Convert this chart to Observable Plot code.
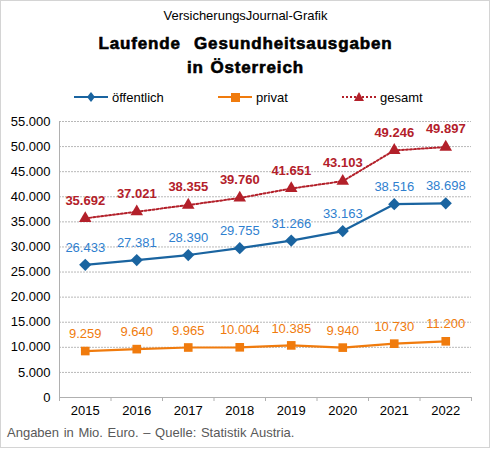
<!DOCTYPE html>
<html>
<head>
<meta charset="utf-8">
<script src="https://cdn.jsdelivr.net/npm/d3@7"></script>
<script src="https://cdn.jsdelivr.net/npm/@observablehq/plot@0.6"></script>
<style>
  html, body { margin: 0; padding: 0; background: #fff; }
  #wrap { position: relative; width: 491px; height: 449px; overflow: hidden; font-family: "Liberation Sans", Arial, sans-serif; }
  #frame { position: absolute; left: 0; top: 0; width: 488px; height: 446px; border: 1px solid #d4d4d4; }
  .t { position: absolute; left: 0; width: 491px; text-align: center; color: #000; white-space: nowrap; }
  #sub { top: 8px; font-size: 13px; }
  #title { top: 32px; font-size: 17px; font-weight: bold; line-height: 24px; letter-spacing: 0.85px; -webkit-text-stroke: 0.6px #000; word-spacing: 1px; }
  #legend { position: absolute; top: 87px; left: 0; width: 491px; height: 20px; font-size: 13px; color: #000; }
  .li { position: absolute; top: 0; display: flex; align-items: center; height: 20px; }
  .li svg { margin-right: 3px; }
  #caption { position: absolute; left: 7px; top: 425px; font-size: 13px; color: #595959; word-spacing: 1px; }
  #chart { position: absolute; left: 0; top: 105px; }
</style>
</head>
<body>
<div id="wrap">
  <div id="frame"></div>
  <div class="t" id="sub">VersicherungsJournal-Grafik</div>
  <div class="t" id="title">Laufende&nbsp; Gesundheitsausgaben<br>in Österreich</div>
  <div id="legend"></div>
  <div id="chart"></div>
  <div id="caption">Angaben in Mio. Euro. – Quelle: Statistik Austria.</div>
</div>
<script>
const years = [2015, 2016, 2017, 2018, 2019, 2020, 2021, 2022];
const oeffentlich = [26433, 27381, 28390, 29755, 31266, 33163, 38516, 38698];
const privat = [9259, 9640, 9965, 10004, 10385, 9940, 10730, 11200];
const gesamt = [35692, 37021, 38355, 39760, 41651, 43103, 49246, 49897];
const seriesNames = ["öffentlich", "privat", "gesamt"];
const yTicks = [0, 5000, 10000, 15000, 20000, 25000, 30000, 35000, 40000, 45000, 50000, 55000];

const colBlue = "#1a64a0", colBlueLbl = "#2f7fcf";
const colOrange = "#f07b0d", colOrangeLbl = "#f07b0d";
const colRed = "#b3202a", colRedLbl = "#b3202a";

const de = d3.formatLocale({decimal: ",", thousands: ".", grouping: [3], currency: ["", " €"]});
const fmt = de.format(",d");

const rows = (vals) => years.map((y, i) => ({year: y, value: vals[i]}));
const dO = rows(oeffentlich), dP = rows(privat), dG = rows(gesamt);
const bounds = d3.range(years[0] - 0.5, years[years.length - 1] + 1, 1);

const chart = Plot.plot({
  width: 491,
  height: 320,
  marginTop: 16,
  marginBottom: 28,
  marginLeft: 59,
  marginRight: 20,
  style: {fontFamily: "Liberation Sans, Arial, sans-serif", fontSize: "13px", color: "#000", background: "transparent"},
  x: {type: "linear", domain: [years[0] - 0.5, years[years.length - 1] + 0.5]},
  y: {domain: [0, 55000]},
  marks: [
    Plot.gridY(yTicks.slice(1), {stroke: "#b8b8b8", strokeOpacity: 1, strokeDasharray: "2,1", strokeWidth: 1}),
    Plot.axisY({ticks: yTicks, tickSize: 0, tickPadding: 9, tickFormat: fmt, label: null, fontSize: 13, fill: "#000"}),
    Plot.axisX({ticks: years, tickSize: 0, tickPadding: 8, tickFormat: d => String(d), label: null, fontSize: 13, fill: "#000"}),
    Plot.axisX({ticks: bounds, tickSize: 4, tickFormat: () => "", label: null, stroke: "#b0b0b0"}),
    Plot.ruleX([years[0] - 0.5], {y1: 0, y2: 55000, stroke: "#b0b0b0"}),
    Plot.ruleY([0], {stroke: "#b0b0b0"}),
    Plot.line(dG, {x: "year", y: "value", stroke: colRed, strokeWidth: 2, strokeDasharray: "2,2"}),
    Plot.line(dO, {x: "year", y: "value", stroke: colBlue, strokeWidth: 2.2}),
    Plot.line(dP, {x: "year", y: "value", stroke: colOrange, strokeWidth: 2.2}),
    Plot.dot(dO, {x: "year", y: "value", symbol: "diamond2", r: 5.5, fill: colBlue, stroke: "none"}),
    Plot.dot(dP, {x: "year", y: "value", symbol: "square2", r: 5.5, fill: colOrange, stroke: "none"}),
    Plot.dot(dG, {x: "year", y: "value", symbol: "triangle2", r: 6, fill: colRed, stroke: "none"}),
    Plot.text(dO, {x: "year", y: "value", text: d => fmt(d.value), dy: -17, fill: colBlueLbl, fontSize: 13}),
    Plot.text(dP, {x: "year", y: "value", text: d => fmt(d.value), dy: -17, fill: colOrangeLbl, fontSize: 13}),
    Plot.text(dG, {x: "year", y: "value", text: d => fmt(d.value), dy: -18, fill: colRedLbl, fontSize: 13, fontWeight: "bold"})
  ]
});
document.getElementById("chart").appendChild(chart);

// Legend
const legend = document.getElementById("legend");
const legendItems = [
  {name: seriesNames[0], left: 74, color: colBlue, dash: null, sym: "diamond"},
  {name: seriesNames[1], left: 218, color: colOrange, dash: null, sym: "square"},
  {name: seriesNames[2], left: 342, color: colRed, dash: "2,2", sym: "triangle"}
];
for (const it of legendItems) {
  const div = document.createElement("div");
  div.className = "li";
  div.style.left = it.left + "px";
  let marker = "";
  if (it.sym === "diamond") marker = `<path d="M17,5 L21,10 L17,15 L13,10 Z" fill="${it.color}"/>`;
  if (it.sym === "square") marker = `<rect x="13" y="6" width="9" height="9" fill="${it.color}"/>`;
  if (it.sym === "triangle") marker = `<path d="M17,5 L22,14 L12,14 Z" fill="${it.color}"/>`;
  div.innerHTML = `<svg width="35" height="20"><line x1="0" x2="34" y1="10" y2="10" stroke="${it.color}" stroke-width="2.2" ${it.dash ? `stroke-dasharray="${it.dash}"` : ""}/>${marker}</svg><span>${it.name}</span>`;
  legend.appendChild(div);
}
</script>
</body>
</html>
